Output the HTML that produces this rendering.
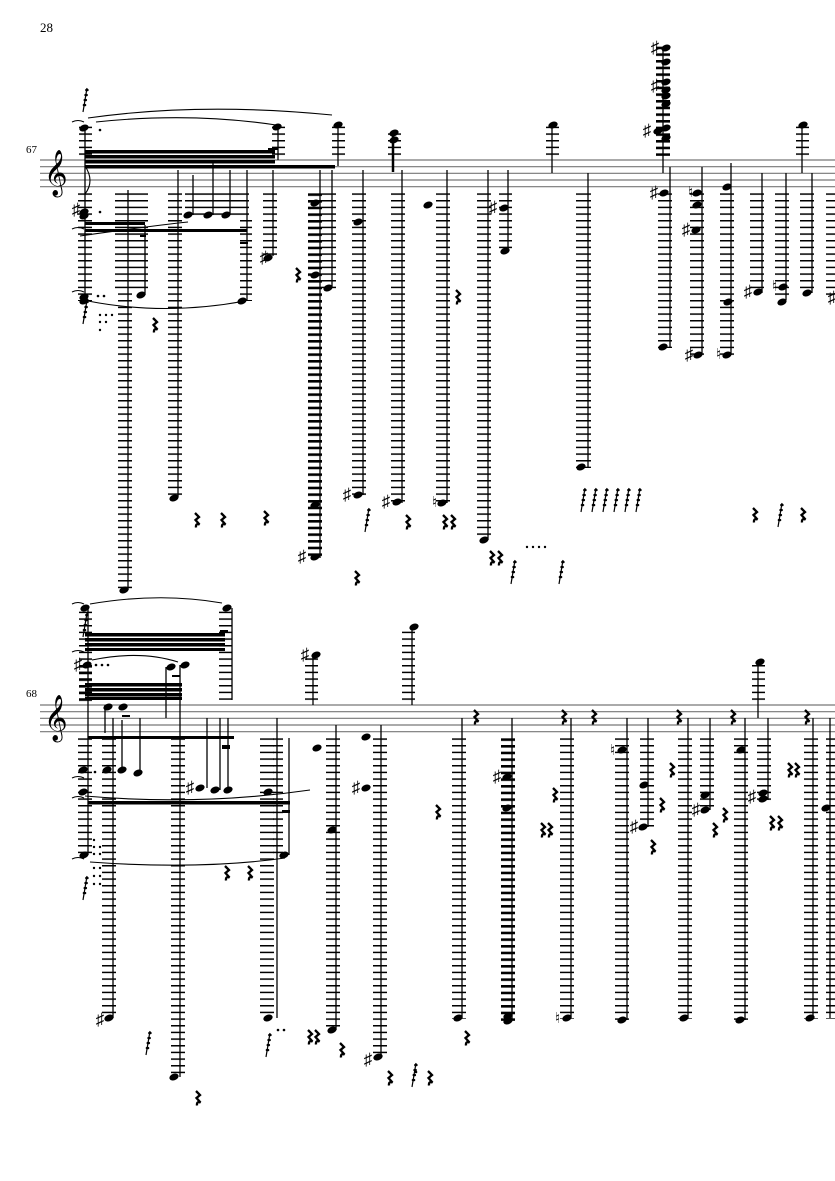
<!DOCTYPE html>
<html><head><meta charset="utf-8"><style>
html,body{margin:0;padding:0;background:#fff}
svg{display:block}
text{font-family:"Liberation Serif","DejaVu Serif",serif;fill:#000}
</style></head><body>
<svg width="835" height="1181" viewBox="0 0 835 1181" xmlns="http://www.w3.org/2000/svg">
<defs>
<pattern id="p1" patternUnits="userSpaceOnUse" x="0" y="160" width="10" height="6.667"><rect x="0" y="0" width="10" height="1.5" fill="#000"/></pattern>
<pattern id="p1h" patternUnits="userSpaceOnUse" x="0" y="160" width="10" height="6.667"><rect x="0" y="0" width="10" height="2.6" fill="#000"/></pattern>
<pattern id="p2" patternUnits="userSpaceOnUse" x="0" y="705" width="10" height="6.667"><rect x="0" y="0" width="10" height="1.5" fill="#000"/></pattern>
<pattern id="p2h" patternUnits="userSpaceOnUse" x="0" y="705" width="10" height="6.667"><rect x="0" y="0" width="10" height="2.6" fill="#000"/></pattern>
<g id="r"><path d="M-2,-7 l4,4 l-3.5,3 l4,4.5 q-4,-1.5 -3.5,3" stroke="#000" stroke-width="2.3" fill="none"/></g>
<g id="n"><ellipse cx="0" cy="0" rx="4.8" ry="3.3" transform="rotate(-22)" fill="#000"/></g>
<g id="s"><text x="0" y="5" font-size="17" text-anchor="middle">♯</text></g>
<g id="g" fill="#000"><path d="M0,12 L4,-12" stroke="#000" stroke-width="1.2"/><ellipse cx="1.5" cy="5" rx="1.8" ry="1.3"/><ellipse cx="2.3" cy="0" rx="1.8" ry="1.3"/><ellipse cx="3.1" cy="-5" rx="1.8" ry="1.3"/><ellipse cx="3.9" cy="-10" rx="1.8" ry="1.3"/></g>
</defs>

<text x="40" y="32" font-size="13">28</text>
<text x="26" y="153" font-size="11">67</text>
<text x="26" y="697" font-size="11">68</text>

<g stroke="#777" stroke-width="1.2">
<line x1="40" y1="160" x2="835" y2="160"/><line x1="40" y1="166.7" x2="835" y2="166.7"/><line x1="40" y1="173.3" x2="835" y2="173.3"/><line x1="40" y1="180" x2="835" y2="180"/><line x1="40" y1="186.7" x2="835" y2="186.7"/>
<line x1="40" y1="705" x2="835" y2="705"/><line x1="40" y1="711.7" x2="835" y2="711.7"/><line x1="40" y1="718.3" x2="835" y2="718.3"/><line x1="40" y1="725" x2="835" y2="725"/><line x1="40" y1="731.7" x2="835" y2="731.7"/>
</g>
<text x="44" y="186" font-size="40">𝄞</text>
<text x="44" y="731" font-size="40">𝄞</text>

<g fill="url(#p1)">
<rect x="78" y="193" width="14" height="108"/>
<rect x="115" y="193" width="33" height="100"/>
<rect x="118" y="293" width="14" height="298"/>
<rect x="168" y="193" width="14" height="305"/>
<rect x="185" y="193" width="64" height="24"/>
<rect x="240" y="217" width="12" height="84"/>
<rect x="263" y="193" width="14" height="63"/>
<rect x="322" y="193" width="14" height="97"/>
<rect x="352" y="193" width="14" height="303"/>
<rect x="391" y="193" width="14" height="310"/>
<rect x="436" y="193" width="14" height="310"/>
<rect x="477" y="193" width="14" height="347"/>
<rect x="499" y="193" width="13" height="58"/>
<rect x="576" y="193" width="15" height="275"/>
<rect x="658" y="193" width="14" height="155"/>
<rect x="690" y="193" width="14" height="163"/>
<rect x="720" y="193" width="14" height="163"/>
<rect x="750" y="193" width="14" height="100"/>
<rect x="775" y="193" width="14" height="107"/>
<rect x="800" y="193" width="14" height="100"/>
<rect x="826" y="193" width="9" height="105"/>
</g>
<rect x="308" y="193" width="14" height="365" fill="url(#p1h)"/>
<g fill="url(#p1)">
<rect x="79" y="126" width="13" height="30"/>
<rect x="272" y="126" width="13" height="30"/>
<rect x="332" y="126" width="13" height="30"/>
<rect x="388" y="133" width="13" height="25"/>
<rect x="546" y="126" width="13" height="30"/>
<rect x="796" y="126" width="13" height="30"/>
</g>
<rect x="656" y="46" width="14" height="110" fill="url(#p1h)"/>

<g stroke="#000" stroke-width="1.3">
<line x1="85" y1="127" x2="85" y2="300"/>
<line x1="128" y1="190" x2="128" y2="590"/>
<line x1="145" y1="225" x2="145" y2="295"/>
<line x1="178" y1="170" x2="178" y2="497"/>
<line x1="193" y1="175" x2="193" y2="215"/>
<line x1="213" y1="160" x2="213" y2="215"/>
<line x1="230" y1="170" x2="230" y2="215"/>
<line x1="247" y1="170" x2="247" y2="300"/>
<line x1="278" y1="127" x2="278" y2="160"/>
<line x1="273" y1="170" x2="273" y2="256"/>
<line x1="320" y1="170" x2="320" y2="558"/>
<line x1="332" y1="170" x2="332" y2="288"/>
<line x1="338" y1="125" x2="338" y2="166"/>
<line x1="363" y1="170" x2="363" y2="495"/>
<line x1="402" y1="170" x2="402" y2="503"/>
<line x1="447" y1="170" x2="447" y2="503"/>
<line x1="488" y1="170" x2="488" y2="540"/>
<line x1="508" y1="170" x2="508" y2="250"/>
<line x1="552" y1="125" x2="552" y2="173"/>
<line x1="588" y1="173" x2="588" y2="467"/>
<line x1="663" y1="48" x2="663" y2="173"/>
<line x1="670" y1="167" x2="670" y2="347"/>
<line x1="702" y1="167" x2="702" y2="355"/>
<line x1="731" y1="163" x2="731" y2="355"/>
<line x1="762" y1="173" x2="762" y2="293"/>
<line x1="786" y1="173" x2="786" y2="300"/>
<line x1="802" y1="125" x2="802" y2="173"/>
<line x1="812" y1="173" x2="812" y2="293"/>
</g>
<line x1="393" y1="133" x2="393" y2="172" stroke="#000" stroke-width="2.5"/>
<g fill="#000">
<rect x="85" y="150" width="190" height="3.5"/><rect x="85" y="155" width="190" height="3.5"/><rect x="85" y="160" width="190" height="3.5"/><rect x="85" y="165" width="250" height="3.5"/>
<rect x="85" y="222" width="60" height="3"/><rect x="85" y="229" width="162" height="3"/>
<rect x="268" y="148" width="10" height="2"/>
<rect x="140" y="235" width="6" height="2"/><rect x="240" y="242" width="8" height="2"/>
</g>
<g stroke="#000" fill="none" stroke-width="1.1">
<path d="M88,118 Q200,102 332,115"/>
<path d="M96,122 Q190,112 276,125"/>
<path d="M80,236 Q150,226 188,222"/>
<path d="M88,301 Q165,316 245,301"/>
<path d="M72,122 q6,-3 12,0"/><path d="M72,229 q6,-3 12,0"/><path d="M72,292 q6,-3 12,0"/>
<path d="M85,166 q10,15 0,28"/>
</g>
<g>
<use href="#n" x="84" y="128"/><use href="#n" x="84" y="212"/><use href="#n" x="84" y="216"/><use href="#n" x="84" y="297"/><use href="#n" x="84" y="301"/>
<use href="#n" x="124" y="590"/><use href="#n" x="141" y="295"/><use href="#n" x="174" y="498"/>
<use href="#n" x="188" y="215"/><use href="#n" x="208" y="215"/><use href="#n" x="226" y="215"/>
<use href="#n" x="242" y="301"/><use href="#n" x="277" y="127"/><use href="#n" x="268" y="258"/>
<use href="#n" x="315" y="203"/><use href="#n" x="315" y="275"/><use href="#n" x="315" y="505"/><use href="#n" x="315" y="557"/><use href="#n" x="328" y="288"/>
<use href="#n" x="338" y="125"/><use href="#n" x="394" y="133"/><use href="#n" x="394" y="140"/>
<use href="#n" x="358" y="222"/><use href="#n" x="358" y="495"/><use href="#n" x="397" y="502"/><use href="#n" x="428" y="205"/><use href="#n" x="442" y="503"/>
<use href="#n" x="484" y="540"/><use href="#n" x="504" y="208"/><use href="#n" x="505" y="251"/>
<use href="#n" x="553" y="125"/><use href="#n" x="581" y="467"/>
<use href="#n" x="666" y="48"/><use href="#n" x="666" y="62"/><use href="#n" x="666" y="82"/><use href="#n" x="666" y="90"/><use href="#n" x="666" y="96"/><use href="#n" x="666" y="104"/><use href="#n" x="666" y="128"/><use href="#n" x="658" y="131"/><use href="#n" x="666" y="138"/>
<use href="#n" x="664" y="193"/><use href="#n" x="663" y="347"/><use href="#n" x="697" y="193"/><use href="#n" x="697" y="205"/><use href="#n" x="696" y="230"/><use href="#n" x="698" y="355"/>
<use href="#n" x="727" y="187"/><use href="#n" x="727" y="355"/><use href="#n" x="728" y="302"/><use href="#n" x="758" y="292"/><use href="#n" x="783" y="287"/><use href="#n" x="782" y="302"/><use href="#n" x="803" y="125"/><use href="#n" x="807" y="293"/>
</g>
<g>
<use href="#s" x="76" y="210"/><use href="#s" x="264" y="258"/><use href="#s" x="302" y="557"/><use href="#s" x="347" y="495"/><use href="#s" x="386" y="502"/><use href="#s" x="493" y="208"/>
<use href="#s" x="655" y="48"/><use href="#s" x="655" y="86"/><use href="#s" x="647" y="131"/><use href="#s" x="654" y="193"/><use href="#s" x="686" y="230"/><use href="#s" x="748" y="292"/><use href="#s" x="689" y="355"/><use href="#s" x="832" y="298"/>
</g>
<g font-size="15"><text x="432" y="507">♮</text><text x="688" y="197">♮</text><text x="772" y="291">♮</text><text x="716" y="359">♮</text></g>
<g>
<use href="#r" x="155" y="325"/><use href="#r" x="298" y="275"/><use href="#r" x="458" y="297"/>
<use href="#r" x="197" y="520"/><use href="#r" x="223" y="520"/><use href="#r" x="266" y="518"/>
<use href="#r" x="408" y="522"/><use href="#r" x="445" y="522"/><use href="#r" x="453" y="522"/><use href="#r" x="357" y="578"/>
<use href="#r" x="492" y="558"/><use href="#r" x="500" y="558"/>
<use href="#r" x="755" y="515"/><use href="#r" x="803" y="515"/>
</g>
<g>
<use href="#g" x="83" y="100"/><use href="#g" x="83" y="312"/><use href="#g" x="365" y="520"/><use href="#g" x="511" y="572"/><use href="#g" x="559" y="572"/>
<use href="#g" x="581" y="500"/><use href="#g" x="592" y="500"/><use href="#g" x="603" y="500"/><use href="#g" x="614" y="500"/><use href="#g" x="625" y="500"/><use href="#g" x="636" y="500"/><use href="#g" x="778" y="515"/>
</g>
<g fill="#000"><circle cx="100" cy="130" r="1.3"/><circle cx="100" cy="212" r="1.3"/><circle cx="98" cy="296" r="1.3"/><circle cx="104" cy="296" r="1.3"/>
<circle cx="100" cy="315" r="1.2"/><circle cx="106" cy="315" r="1.2"/><circle cx="112" cy="315" r="1.2"/><circle cx="100" cy="322" r="1.2"/><circle cx="106" cy="322" r="1.2"/><circle cx="100" cy="330" r="1.2"/>
<circle cx="527" cy="547" r="1.2"/><circle cx="533" cy="547" r="1.2"/><circle cx="539" cy="547" r="1.2"/><circle cx="545" cy="547" r="1.2"/></g>

<g fill="url(#p2)">
<rect x="78" y="738" width="14" height="118"/>
<rect x="102" y="738" width="14" height="280"/>
<rect x="171" y="738" width="14" height="340"/>
<rect x="260" y="738" width="14" height="280"/>
<rect x="273" y="738" width="10" height="118"/>
<rect x="326" y="738" width="14" height="293"/>
<rect x="373" y="738" width="14" height="320"/>
<rect x="452" y="738" width="14" height="281"/>
<rect x="560" y="738" width="14" height="281"/>
<rect x="615" y="738" width="14" height="282"/>
<rect x="640" y="738" width="14" height="90"/>
<rect x="678" y="738" width="14" height="281"/>
<rect x="700" y="738" width="14" height="72"/>
<rect x="734" y="738" width="14" height="282"/>
<rect x="757" y="738" width="14" height="63"/>
<rect x="804" y="738" width="14" height="281"/>
<rect x="826" y="738" width="9" height="281"/>
</g>
<rect x="501" y="738" width="14" height="283" fill="url(#p2h)"/>
<g fill="url(#p2)">
<rect x="79" y="608" width="13" height="94"/>
<rect x="219" y="608" width="13" height="92"/>
<rect x="305" y="655" width="13" height="48"/>
<rect x="402" y="627" width="13" height="76"/>
<rect x="752" y="662" width="13" height="40"/>
</g>
<rect x="79" y="665" width="13" height="38" fill="url(#p2h)"/>
<g stroke="#000" stroke-width="1.3">
<line x1="88" y1="608" x2="88" y2="855"/>
<line x1="113" y1="718" x2="113" y2="1018"/>
<line x1="105" y1="705" x2="105" y2="733"/>
<line x1="122" y1="720" x2="122" y2="770"/>
<line x1="140" y1="718" x2="140" y2="773"/>
<line x1="180" y1="665" x2="180" y2="1077"/>
<line x1="166" y1="667" x2="166" y2="718"/>
<line x1="207" y1="718" x2="207" y2="788"/>
<line x1="220" y1="718" x2="220" y2="790"/>
<line x1="228" y1="718" x2="228" y2="790"/>
<line x1="232" y1="608" x2="232" y2="700"/>
<line x1="277" y1="718" x2="277" y2="1018"/>
<line x1="289" y1="738" x2="289" y2="855"/>
<line x1="313" y1="655" x2="313" y2="705"/>
<line x1="336" y1="725" x2="336" y2="1030"/>
<line x1="381" y1="725" x2="381" y2="1057"/>
<line x1="412" y1="627" x2="412" y2="705"/>
<line x1="462" y1="718" x2="462" y2="1018"/>
<line x1="512" y1="718" x2="512" y2="1020"/>
<line x1="571" y1="718" x2="571" y2="1018"/>
<line x1="627" y1="718" x2="627" y2="1020"/>
<line x1="648" y1="718" x2="648" y2="827"/>
<line x1="688" y1="718" x2="688" y2="1018"/>
<line x1="710" y1="718" x2="710" y2="810"/>
<line x1="745" y1="718" x2="745" y2="1020"/>
<line x1="758" y1="662" x2="758" y2="718"/>
<line x1="768" y1="718" x2="768" y2="800"/>
<line x1="813" y1="718" x2="813" y2="1018"/>
<line x1="830" y1="718" x2="830" y2="1018"/>
</g>
<g fill="#000">
<rect x="85" y="633" width="140" height="3.5"/><rect x="85" y="638" width="140" height="3.5"/><rect x="85" y="643" width="140" height="3.5"/><rect x="85" y="648" width="140" height="3"/>
<rect x="85" y="683" width="97" height="3.5"/><rect x="85" y="688" width="97" height="3.5"/><rect x="85" y="693" width="97" height="3.5"/><rect x="85" y="697" width="97" height="3"/>
<rect x="88" y="736" width="146" height="3"/><rect x="88" y="801" width="202" height="3.5"/>
<rect x="122" y="715" width="8" height="2"/><rect x="220" y="630" width="8" height="2"/><rect x="172" y="675" width="8" height="2"/><rect x="222" y="745" width="8" height="4"/><rect x="282" y="810" width="8" height="3"/>
</g>
<g stroke="#000" fill="none" stroke-width="1.1">
<path d="M90,604 Q160,592 222,603"/>
<path d="M92,660 Q140,650 178,662"/>
<path d="M85,796 Q200,806 310,790"/>
<path d="M90,862 Q200,870 285,858"/>
<path d="M72,604 q6,-3 12,0"/><path d="M72,652 q6,-3 12,0"/><path d="M72,778 q6,-3 12,0"/><path d="M72,798 q6,-3 12,0"/><path d="M72,859 q6,-3 12,0"/>
</g>
<g>
<use href="#n" x="85" y="608"/><use href="#n" x="227" y="608"/><use href="#n" x="87" y="665"/><use href="#n" x="171" y="667"/><use href="#n" x="185" y="665"/>
<use href="#n" x="108" y="707"/><use href="#n" x="123" y="707"/>
<use href="#n" x="83" y="770"/><use href="#n" x="107" y="770"/><use href="#n" x="122" y="770"/><use href="#n" x="138" y="773"/><use href="#n" x="83" y="792"/><use href="#n" x="84" y="855"/>
<use href="#n" x="109" y="1018"/><use href="#n" x="174" y="1077"/><use href="#n" x="200" y="788"/><use href="#n" x="215" y="790"/><use href="#n" x="228" y="790"/>
<use href="#n" x="268" y="792"/><use href="#n" x="268" y="1018"/><use href="#n" x="284" y="855"/><use href="#n" x="316" y="655"/>
<use href="#n" x="317" y="748"/><use href="#n" x="332" y="830"/><use href="#n" x="332" y="1030"/><use href="#n" x="366" y="788"/><use href="#n" x="366" y="737"/><use href="#n" x="378" y="1057"/><use href="#n" x="414" y="627"/>
<use href="#n" x="458" y="1018"/><use href="#n" x="507" y="777"/><use href="#n" x="507" y="808"/><use href="#n" x="508" y="1016"/><use href="#n" x="508" y="1021"/><use href="#n" x="567" y="1018"/>
<use href="#n" x="622" y="750"/><use href="#n" x="622" y="1020"/><use href="#n" x="644" y="785"/><use href="#n" x="643" y="827"/><use href="#n" x="684" y="1018"/><use href="#n" x="705" y="795"/><use href="#n" x="705" y="810"/>
<use href="#n" x="741" y="750"/><use href="#n" x="740" y="1020"/><use href="#n" x="760" y="662"/><use href="#n" x="763" y="793"/><use href="#n" x="763" y="799"/><use href="#n" x="810" y="1018"/><use href="#n" x="826" y="808"/>
</g>
<g>
<use href="#s" x="78" y="665"/><use href="#s" x="305" y="655"/><use href="#s" x="190" y="788"/><use href="#s" x="100" y="1020"/><use href="#s" x="356" y="788"/><use href="#s" x="368" y="1060"/>
<use href="#s" x="497" y="777"/><use href="#s" x="634" y="827"/><use href="#s" x="696" y="810"/><use href="#s" x="752" y="797"/>
</g>
<g font-size="15"><text x="610" y="755">♮</text><text x="555" y="1023">♮</text></g>
<g>
<use href="#r" x="227" y="873"/><use href="#r" x="250" y="873"/><use href="#r" x="198" y="1098"/><use href="#r" x="310" y="1037"/><use href="#r" x="317" y="1037"/><use href="#r" x="342" y="1050"/>
<use href="#r" x="390" y="1078"/><use href="#r" x="430" y="1078"/><use href="#r" x="438" y="812"/><use href="#r" x="467" y="1038"/><use href="#r" x="543" y="830"/><use href="#r" x="550" y="830"/><use href="#r" x="555" y="795"/>
<use href="#r" x="476" y="717"/><use href="#r" x="564" y="717"/><use href="#r" x="594" y="717"/><use href="#r" x="679" y="717"/><use href="#r" x="733" y="717"/><use href="#r" x="807" y="717"/>
<use href="#r" x="672" y="770"/><use href="#r" x="662" y="805"/><use href="#r" x="653" y="847"/><use href="#r" x="725" y="815"/><use href="#r" x="715" y="830"/>
<use href="#r" x="772" y="823"/><use href="#r" x="780" y="823"/><use href="#r" x="790" y="770"/><use href="#r" x="797" y="770"/>
</g>
<g>
<use href="#g" x="83" y="625"/><use href="#g" x="83" y="888"/><use href="#g" x="146" y="1043"/><use href="#g" x="266" y="1045"/><use href="#g" x="412" y="1075"/>
</g>
<g fill="#000"><circle cx="96" cy="665" r="1.3"/><circle cx="102" cy="665" r="1.3"/><circle cx="108" cy="665" r="1.3"/><circle cx="95" cy="772" r="1.3"/>
<circle cx="94" cy="840" r="1.2"/><circle cx="94" cy="847" r="1.2"/><circle cx="94" cy="854" r="1.2"/><circle cx="100" cy="847" r="1.2"/><circle cx="100" cy="854" r="1.2"/><circle cx="94" cy="868" r="1.2"/><circle cx="94" cy="876" r="1.2"/><circle cx="94" cy="884" r="1.2"/><circle cx="100" cy="868" r="1.2"/><circle cx="100" cy="876" r="1.2"/><circle cx="100" cy="884" r="1.2"/>
<circle cx="278" cy="1030" r="1.3"/><circle cx="284" cy="1030" r="1.3"/><circle cx="416" cy="1072" r="1.3"/></g>
</svg>
</body></html>
